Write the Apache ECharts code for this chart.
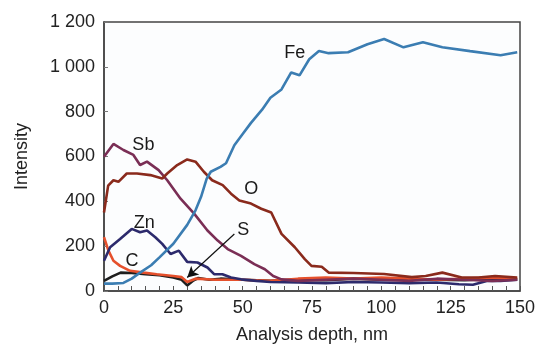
<!DOCTYPE html>
<html><head><meta charset="utf-8">
<script src="https://cdn.jsdelivr.net/npm/echarts@6/dist/echarts.min.js"></script>
<style>html,body{margin:0;padding:0;background:#fff}#c{width:537px;height:345px}</style>
</head><body><div id="c"></div>
<script>
// ---- data ----
const feDepth = [0, 3, 7, 10, 13, 17, 20, 25, 30, 33, 35, 37, 38.5, 42, 44, 47, 50, 53, 57, 60, 64, 67.5, 70.5, 74, 77.5, 81, 88, 95, 101, 108, 115, 122, 132, 143, 149];
const feVal   = [33, 33, 36, 55, 82, 115, 150, 211, 295, 360, 420, 500, 532, 554, 570, 650, 700, 750, 809, 862, 899, 975, 962, 1034, 1071, 1061, 1065, 1101, 1124, 1087, 1110, 1087, 1070, 1052, 1065];

const sbDepth = [0, 3.4, 7, 10.6, 13, 15.5, 19.7, 22.8, 27.6, 32.5, 37.3, 41, 44.6, 49.4, 54.2, 58, 61, 64, 70, 80, 90, 100, 110, 120, 130, 140, 149];
const sbVal   = [599, 656, 629, 607, 562, 577, 539, 494, 412, 345, 270, 225, 187, 157, 120, 97, 67, 52, 45, 50, 55, 50, 45, 55, 50, 45, 50];

const oDepth = [0, 1.5, 3.4, 5.2, 8.2, 11.9, 16.7, 21, 22.8, 26.4, 30, 33, 36, 39, 42.8, 45.8, 48.8, 53, 56.7, 60.3, 64, 68.8, 72.4, 74.8, 78.5, 81, 90, 101, 111, 116, 122, 129, 135, 141, 149];
const oVal   = [350, 470, 494, 487, 524, 524, 517, 502, 524, 562, 587, 577, 532, 494, 472, 434, 404, 390, 367, 350, 255, 195, 142, 112, 108, 82, 80, 76, 62, 67, 82, 60, 60, 67, 60];

const znDepth = [0, 2.2, 5.8, 10, 13, 15.5, 18.5, 21, 24, 27, 30, 33.7, 37.3, 39.7, 42.7, 45.8, 49.4, 55, 60, 70, 80, 90, 100, 110, 120, 128, 133, 138, 143, 149];
const znVal   = [135, 195, 232, 277, 262, 270, 240, 210, 165, 180, 130, 127, 105, 75, 75, 60, 52, 45, 40, 38, 35, 40, 38, 35, 38, 30, 28, 45, 45, 50];

const cDepth = [0, 1.6, 3.4, 5.8, 9.4, 14.3, 19, 25, 28, 30, 33, 40, 50, 60, 70, 80, 90, 100, 110, 120, 130, 140, 149];
const cVal   = [240, 180, 135, 112, 90, 82, 75, 67, 62, 40, 55, 50, 50, 45, 55, 60, 55, 60, 55, 50, 55, 60, 55];

const sDepth = [0, 3, 6, 10, 15, 20, 25, 28, 30, 32, 34, 38, 42, 50, 60, 70, 80, 90, 100, 110, 120, 130, 140, 149];
const sVal   = [45, 65, 82, 80, 75, 70, 60, 50, 25, 45, 58, 50, 55, 50, 45, 50, 48, 55, 50, 52, 50, 48, 55, 52];

const labelNames = ['Fe', 'Sb', 'O', 'Zn', 'S', 'C'];
const labelDepth = [68.8, 14.2, 53.1, 14.5, 50.2, 10.1];
const labelValue = [1060, 650, 455, 305, 270, 135];

const arrowFrom = [47.0, 254];
const arrowTo = [30.0, 60];

const xTicks = [0, 25, 50, 75, 100, 125, 150];
const yTicks = [0, 200, 400, 600, 800, 1000, 1200];

// ---- chart ----
const pair = (d, v) => d.map((x, i) => [x, v[i]]);
const font = "'Liberation Sans', Arial, sans-serif";
function line(name, d, v, color) {
  return { name, type: 'line', data: pair(d, v), showSymbol: false, symbol: 'none',
    lineStyle: { color, width: 2.6 }, itemStyle: { color }, z: 3, animation: false };
}
const chart = echarts.init(document.getElementById('c'));
chart.setOption({
  animation: false,
  grid: { left: 104, right: 17, top: 22, bottom: 54, containLabel: false, outerBoundsMode: 'none',
    show: true, borderColor: '#444', borderWidth: 1.5, backgroundColor: '#fcfdfe' },
  xAxis: {
    type: 'value', min: xTicks[0], max: xTicks[xTicks.length - 1], interval: 25,
    name: 'Analysis depth, nm', nameLocation: 'middle', nameGap: 35,
    nameTextStyle: { fontFamily: font, fontSize: 18, color: '#222' },
    axisLine: { lineStyle: { color: '#444', width: 1.5 } },
    axisTick: { inside: true, length: 5, lineStyle: { color: '#555' } },
    minorTick: { show: true, splitNumber: 5, length: 5, lineStyle: { color: '#555' } },
    splitLine: { show: false },
    axisLabel: { fontFamily: font, fontSize: 18, color: '#222', margin: 8 }
  },
  yAxis: {
    type: 'value', min: yTicks[0], max: yTicks[yTicks.length - 1], interval: 200,
    name: 'Intensity', nameLocation: 'middle', nameGap: 73,
    nameTextStyle: { fontFamily: font, fontSize: 18, color: '#222' },
    axisLine: { show: true, lineStyle: { color: '#444', width: 1.5 } },
    axisTick: { show: true, inside: true, length: 4, lineStyle: { color: '#777' } },
    splitLine: { show: false },
    axisLabel: { fontFamily: font, fontSize: 18, color: '#222', margin: 9, padding: [9, 0, 0, 0],
      formatter: v => v >= 1000 ? String(v).replace(/(\d)(\d{3})$/, '$1 $2') : String(v) }
  },
  series: [
    line('S', sDepth, sVal, '#1e1e1e'),
    line('C', cDepth, cVal, '#e5502c'),
    line('Zn', znDepth, znVal, '#2c2a6c'),
    line('Sb', sbDepth, sbVal, '#7a2e55'),
    line('O', oDepth, oVal, '#8a2a1c'),
    line('Fe', feDepth, feVal, '#3b7db2'),
    {
      type: 'scatter', symbolSize: 0, z: 5, animation: false,
      itemStyle: { opacity: 1 },
      data: labelNames.map((n, i) => ({ name: n, value: [labelDepth[i], labelValue[i]] })),
      label: { show: true, position: 'inside', formatter: p => p.name, fontFamily: font, fontSize: 18, color: '#1a1a1a', opacity: 1, textBorderWidth: 0 },
      markLine: {
        silent: true, symbol: ['none', 'arrow'], symbolSize: [9, 11],
        lineStyle: { color: '#111', width: 1.2, type: 'solid' }, label: { show: false },
        data: [[{ coord: arrowFrom }, { coord: arrowTo }]]
      }
    }
  ]
});
</script></body></html>
